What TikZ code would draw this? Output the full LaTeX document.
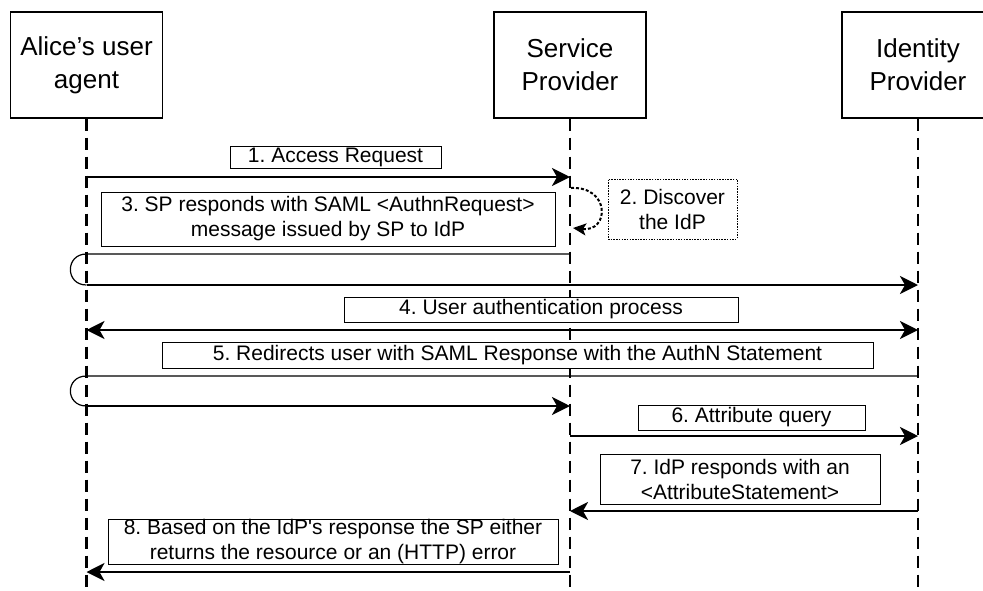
\documentclass[tikz,border=0pt]{standalone}
\usepackage{fontspec}
\setmainfont{Liberation Sans}
\usetikzlibrary{arrows.meta}
\frenchspacing

\begin{document}
\begin{tikzpicture}[x=1pt,y=-1pt,
  actor/.style={draw,line width=1.2pt,fill=white,minimum width=152pt,minimum height=106pt,
    align=center,font=\fontsize{26}{33}\selectfont,inner sep=0pt},
  life/.style={line width=2.2pt,dash pattern=on 12pt off 7pt},
  msgbox/.style={draw,line width=1pt,fill=white,align=center,
    font=\fontsize{21}{25}\selectfont,inner sep=0pt},
  notebox/.style={msgbox,dash pattern=on 1.5pt off 1.2pt},
  tip/.tip={Stealth[length=18pt,width=18pt,inset=5pt]},
  msg/.style={line width=2.8pt,-tip},
  twoway/.style={line width=2.8pt,tip-tip},
  thinline/.style={line width=1.2pt},
  selfloop/.style={line width=2pt,dash pattern=on 3pt off 2pt,
    -{Stealth[length=13pt,width=12pt,inset=3pt]}}]

\useasboundingbox (0,0) rectangle (983,590);
\clip (0,0) rectangle (983,590);

% participants
\node[actor] (alice) at (86.5,65) {Alice’s user\\agent};
\node[actor] (sp)    at (570,65)  {Service\\Provider};
\node[actor] (idp)   at (918,65)  {Identity\\Provider};

\coordinate (aend) at (86.5,590);
\coordinate (send) at (570,590);
\coordinate (iend) at (918,590);
\draw[life] (alice.south) -- (aend);
\draw[life] (sp.south) -- (send);
\draw[life] (idp.south) -- (iend);

% message end points on the lifelines
\coordinate (a1) at (86.5,177);  \coordinate (s1) at (570,177);
\coordinate (s2a) at (571,188);  \coordinate (s2b) at (573,228);
\coordinate (s3) at (570,254);   \coordinate (a3) at (86.5,254);
\coordinate (a3b) at (86.5,285); \coordinate (i3) at (918,285);
\coordinate (a4) at (86.5,330);  \coordinate (i4) at (918,330);
\coordinate (i5) at (918,376);   \coordinate (a5) at (86.5,376);
\coordinate (a5b) at (86.5,406); \coordinate (s5) at (570,406);
\coordinate (s6) at (570,436);   \coordinate (i6) at (918,436);
\coordinate (i7) at (918,511);   \coordinate (s7) at (570,511);
\coordinate (s8) at (570,572);   \coordinate (a8) at (86.5,572);

% labels
\node[msgbox,minimum width=211pt,minimum height=22pt] (m1) at (335.5,157) {1. Access Request};
\node[notebox,minimum width=129pt,minimum height=60pt] (m2) at (672.5,209) {2. Discover\\the IdP};
\node[msgbox,minimum width=454pt,minimum height=54pt] (m3) at (328,219) {3. SP responds with SAML <AuthnRequest>\\message issued by SP to IdP};
\node[msgbox,minimum width=394pt,minimum height=25pt] (m4) at (541,309.5) {4. User authentication process};
\node[msgbox,minimum width=711pt,minimum height=26pt] (m5) at (517.5,355) {5. Redirects user with SAML Response with the AuthN Statement};
\node[msgbox,minimum width=227pt,minimum height=25pt] (m6) at (751.5,417.5) {6. Attribute query};
\node[msgbox,minimum width=280pt,minimum height=50pt] (m7) at (740,479) {7. IdP responds with an\\<AttributeStatement>};
\node[msgbox,minimum width=450pt,minimum height=45pt] (m8) at (333,541.5) {8. Based on the IdP\textquotesingle s response the SP either\\returns the resource or an (HTTP) error};

% messages
\draw[msg] (a1) -- (s1);
\draw[selfloop] (s2a) .. controls (610,186) and (610,232) .. (s2b);
\draw[thinline] (s3) -- (a3) .. controls (65,254) and (65,285) .. (a3b);
\draw[msg] (a3b) -- (i3);
\draw[twoway] (a4) -- (i4);
\draw[thinline] (i5) -- (a5) .. controls (65,376) and (65,406) .. (a5b);
\draw[msg] (a5b) -- (s5);
\draw[msg] (s6) -- (i6);
\draw[msg] (i7) -- (s7);
\draw[msg] (s8) -- (a8);
\end{tikzpicture}
\end{document}
